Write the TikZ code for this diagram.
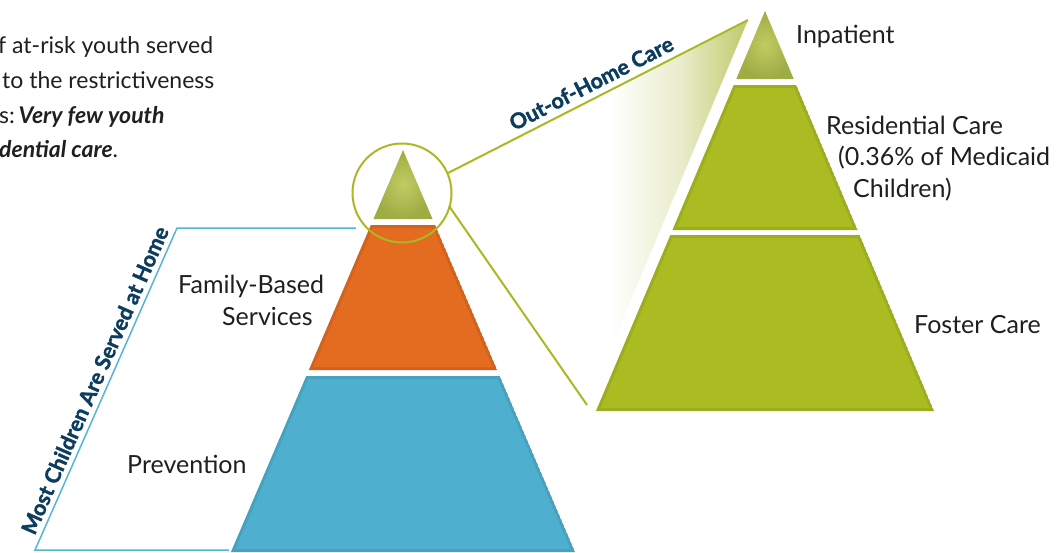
\documentclass[tikz,border=0pt]{standalone}
\usepackage{fontspec}
\setmainfont{Lato}
\newfontfamily\boldlabel{Lato}[BoldFeatures={FakeBold=1.6}]
\usetikzlibrary{positioning}

\definecolor{famorange}{RGB}{227,108,33}
\definecolor{prevblue}{RGB}{79,175,207}
\definecolor{careolive}{RGB}{171,187,34}
\definecolor{tipgreen}{RGB}{194,203,98}
\definecolor{tipdark}{RGB}{158,172,68}
\definecolor{ringolive}{RGB}{170,184,35}
\definecolor{bracketblue}{RGB}{86,180,213}
\definecolor{titleblue}{RGB}{12,61,94}
\definecolor{wedgegreen}{RGB}{190,201,105}

\pgfdeclarehorizontalshading{wedgefade}{100bp}{color(0bp)=(white); color(25bp)=(white);
  color(52bp)=(white); color(64bp)=(wedgegreen!35); color(75bp)=(wedgegreen); color(100bp)=(wedgegreen)}

% trapezoid slice of a pyramid: centre x, apex y, slope, top y, bottom y
\newcommand\slice[5]{({#1-#3*(#4-#2)},#4) -- ({#1+#3*(#4-#2)},#4) -- ({#1+#3*(#5-#2)},#5) -- ({#1-#3*(#5-#2)},#5) -- cycle}

\tikzset{
  rim/.style={draw=#1!70!black, line width=6pt, opacity=.25},
  lbl/.style={font=\fontsize{25}{30}\selectfont, text=black!88, anchor=base west, inner sep=0pt},
  note/.style={font=\fontsize{23}{35}\selectfont, text=black!88, anchor=base west, inner sep=0pt},
  tilted/.style={font=\boldlabel\bfseries\fontsize{21.5}{26}\selectfont, text=titleblue, inner sep=0pt},
  zoomline/.style={draw=ringolive, line width=2pt},
  bracket/.style={draw=bracketblue, line width=1.5pt}
}

\begin{document}
\begin{tikzpicture}[x=1pt,y=-1pt]
\useasboundingbox (0,0) rectangle (1059,552);

% faded wedge behind the zoom lines
\coordinate (ring) at (402,193);
\coordinate (ringTop) at (448,173);
\coordinate (ringBot) at (449,206);
\coordinate (zoomTop) at (748,20);
\coordinate (zoomBot) at (587,405);
\shade[shading=wedgefade] (ringTop) -- (zoomTop) -- (zoomBot) -- (ringBot) -- cycle;

% left pyramid
\shade[inner color=tipgreen, outer color=tipdark] \slice{403}{150}{0.428}{150}{219};
\foreach \ya/\yb/\col in {225/370/famorange, 376/552/prevblue}{
  \begin{scope}
    \clip \slice{403}{150}{0.428}{\ya}{\yb};
    \fill[\col] \slice{403}{150}{0.428}{\ya}{\yb};
    \draw[rim=\col] \slice{403}{150}{0.428}{\ya}{\yb};
  \end{scope}
}

% right pyramid
\shade[inner color=tipgreen, outer color=tipdark] \slice{765}{11}{0.4225}{11}{79};
\foreach \ya/\yb in {85/230, 235/411}{
  \begin{scope}
    \clip \slice{765}{11}{0.4225}{\ya}{\yb};
    \fill[careolive] \slice{765}{11}{0.4225}{\ya}{\yb};
    \draw[rim=careolive] \slice{765}{11}{0.4225}{\ya}{\yb};
  \end{scope}
}

% ring and zoom lines
\draw[zoomline] (ring) circle (49.5);
\draw[zoomline] (ringTop) -- (zoomTop)
  node[pos=.5, sloped, above=6pt, tilted] (outhome) {Out-of-Home Care};
\draw[zoomline] (ringBot) -- (zoomBot);

% bracket round the home services
\coordinate (homeA) at (356,228);
\coordinate (homeB) at (177,228);
\coordinate (homeC) at (35,550);
\coordinate (homeD) at (229,550);
\draw[bracket] (homeA) -- (homeB) -- node[pos=.49, sloped, above=5pt, tilted] (athome)
  {Most Children Are Served at Home} (homeC) -- (homeD);

% labels
\node[lbl] (inpatient) at (796,43) {Inpatient};
\node[lbl] (residential) at (826,134) {Residential Care};
\node[lbl] (share) at (838,165) {(0.36\% of Medicaid};
\node[lbl] (children) at (853,197) {Children)};
\node[lbl] (foster) at (914,333) {Foster Care};
\node[lbl] (family) at (178,293) {Family-Based};
\node[lbl] (services) at (222,325) {Services};
\node[lbl] (prevention) at (127,473) {Prevention};

% cut-off note at the top left
\node[note] (noteA) at (-2,53) {f at-risk youth served};
\node[note] (noteB) at (2,88) {to the restrictiveness};
\node[note] (noteC) at (-1,123) {s:\,\textbf{\textit{Very few youth}}};
\node[note] (noteD) at (-1,157) {\textbf{\textit{dential care}}.};
\end{tikzpicture}
\end{document}
